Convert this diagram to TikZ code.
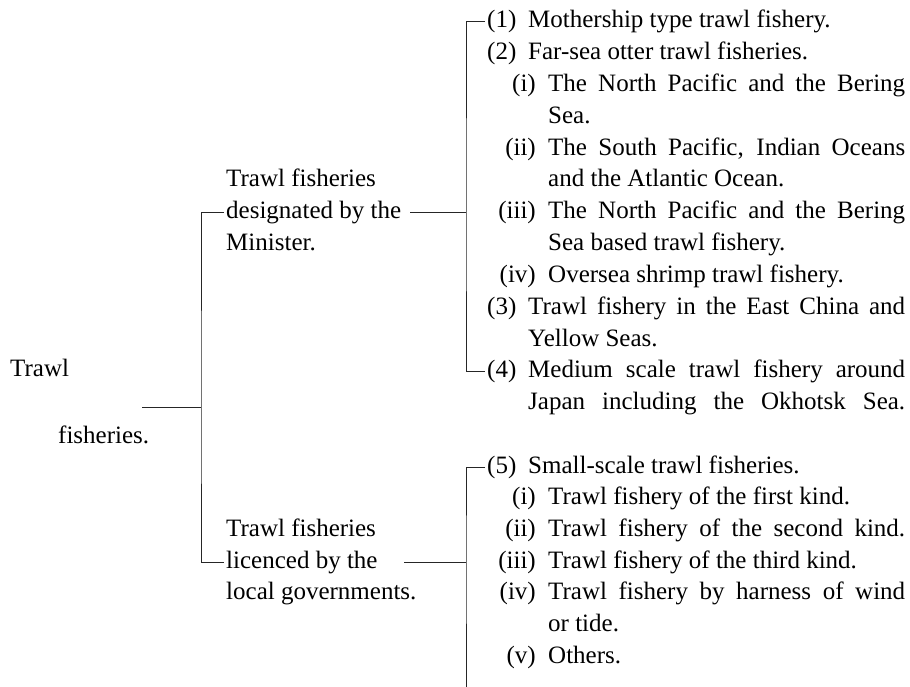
\documentclass[tikz,border=0pt]{standalone}
\usepackage{fontspec}
\setmainfont{Liberation Serif}
\newcommand\justm[1]{\makebox[377pt][s]{#1}}
\newcommand\justs[1]{\makebox[357pt][s]{#1}}
\begin{document}
\begin{tikzpicture}[x=1pt,y=-1pt,
  txt/.style={anchor=west,inner sep=0pt,text height=17.5pt,text depth=5.5pt,font=\fontsize{25}{30}\selectfont},
  rlab/.style={anchor=east,inner sep=0pt,text height=17.5pt,text depth=5.5pt,font=\fontsize{25}{30}\selectfont},
  conn/.style={line width=1pt,draw=black!85}]
\useasboundingbox (0,0) rectangle (910,687);
% root
\node[txt] (t1) at (10,370) {Trawl};
\node[txt] (t2) at (58,437) {fisheries.};
% middle column
\node[txt] (d1) at (226,181) {Trawl fisheries};
\node[txt] (d2) at (226,212.8) {designated by the};
\node[txt] (d3) at (226,244.6) {Minister.};
\node[txt] (l1) at (226,530.4) {Trawl fisheries};
\node[txt] (l2) at (226,562.1) {licenced by the};
\node[txt] (l3) at (226,593.8) {local governments.};
% upper list
\node[txt] (pa) at (487,22) {(1)};
\node[txt] (ua) at (528,22) {Mothership type trawl fishery.};
\node[txt] (pb) at (487,53.8) {(2)};
\node[txt] (ub) at (528,53.8) {Far-sea otter trawl fisheries.};
\node[rlab] (pc) at (536,85.6) {(i)};
\node[txt] (uc) at (548,85.6) {\justs{The North Pacific and the Bering}};
\node[txt] (ud) at (548,117.4) {Sea.};
\node[rlab] (pe) at (536,149.2) {(ii)};
\node[txt] (ue) at (548,149.2) {\justs{The South Pacific, Indian Oceans}};
\node[txt] (uf) at (548,181) {and the Atlantic Ocean.};
\node[rlab] (pg) at (536,212.8) {(iii)};
\node[txt] (ug) at (548,212.8) {\justs{The North Pacific and the Bering}};
\node[txt] (uh) at (548,244.6) {Sea based trawl fishery.};
\node[rlab] (pi) at (536,276.4) {(iv)};
\node[txt] (ui) at (548,276.4) {Oversea shrimp trawl fishery.};
\node[txt] (pj) at (487,308.2) {(3)};
\node[txt] (uj) at (528,308.2) {\justm{Trawl fishery in the East China and}};
\node[txt] (uk) at (528,340) {Yellow Seas.};
\node[txt] (pl) at (487,371.8) {(4)};
\node[txt] (ul) at (528,371.8) {\justm{Medium scale trawl fishery around}};
\node[txt] (um) at (528,403.6) {\justm{Japan including the Okhotsk Sea.}};
% lower list
\node[txt] (qa) at (487,467) {(5)};
\node[txt] (wa) at (528,467) {Small-scale trawl fisheries.};
\node[rlab] (qb) at (536,498.7) {(i)};
\node[txt] (wb) at (548,498.7) {Trawl fishery of the first kind.};
\node[rlab] (qc) at (536,530.4) {(ii)};
\node[txt] (wc) at (548,530.4) {\justs{Trawl fishery of the second kind.}};
\node[rlab] (qd) at (536,562.1) {(iii)};
\node[txt] (wd) at (548,562.1) {Trawl fishery of the third kind.};
\node[rlab] (qe) at (536,593.8) {(iv)};
\node[txt] (we) at (548,593.8) {\justs{Trawl fishery by harness of wind}};
\node[txt] (wf) at (548,625.5) {or tide.};
\node[rlab] (qg) at (536,657.2) {(v)};
\node[txt] (wg) at (548,657.2) {Others.};
% connector points
\coordinate (rootL) at (142,407);
\coordinate (j1) at (201,407);
\coordinate (stubU) at (410,212.8);
\coordinate (ju) at (466,212.8);
\coordinate (stubL) at (404,562.1);
\coordinate (jl) at (466,562.1);
\coordinate (bottomL) at (466,687);
% connectors
\draw[conn] (rootL) -- (j1);
\draw[conn] ([xshift=-2pt]d2.west) -| (j1) |- ([xshift=-2pt]l2.west);
\draw[conn] (stubU) -- (ju);
\draw[conn] ([xshift=-2pt]pa.west) -| (ju) |- ([xshift=-2pt]pl.west);
\draw[conn] (stubL) -- (jl);
\draw[conn] ([xshift=-2pt]qa.west) -| (jl) -- (bottomL);
\end{tikzpicture}
\end{document}
